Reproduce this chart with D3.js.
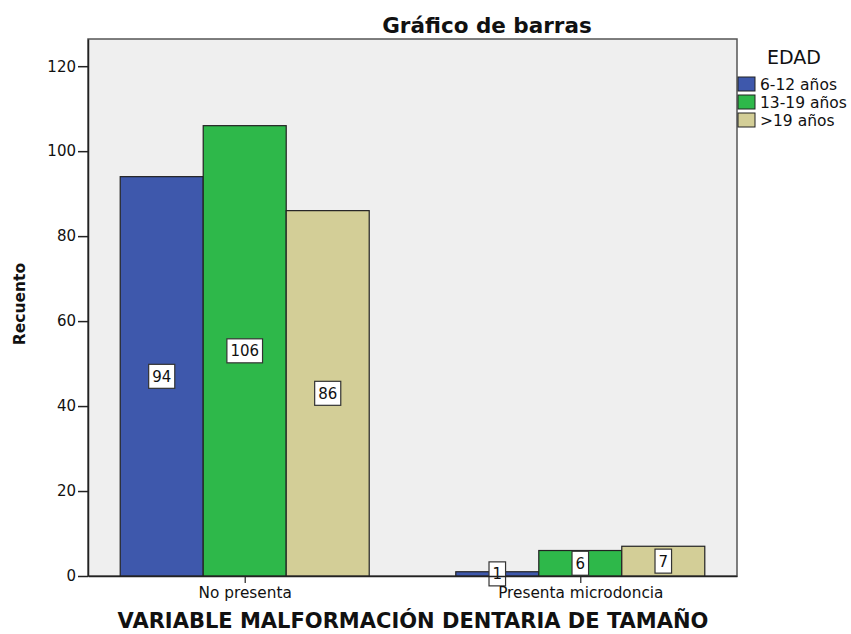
<!DOCTYPE html>
<html>
<head>
<meta charset="utf-8">
<script src="https://cdn.jsdelivr.net/npm/d3@7"></script>
<style>
  body { margin: 0; background: #fff; }
  text { font-family: "DejaVu Sans", Verdana, sans-serif; fill: #111; }
</style>
</head>
<body>
<div id="chart"></div>
<script>
const categories = ["No presenta", "Presenta microdoncia"];
const groups = ["6-12 años", "13-19 años", ">19 años"];
const values = [
  [94, 106, 86],
  [1, 6, 7]
];
const yTicks = [0, 20, 40, 60, 80, 100, 120];
const colors = ["#3e58ac", "#2eb84a", "#d3ce97"];

const width = 851, height = 634;
const margin = {top: 39, right: 114, bottom: 58, left: 88};

const svg = d3.select("#chart").append("svg")
  .attr("width", width)
  .attr("height", height);

const y = d3.scaleLinear()
  .domain([0, 126.4])
  .range([height - margin.bottom, margin.top]);

const x = d3.scalePoint()
  .domain(categories)
  .range([margin.left, width - margin.right])
  .padding(0.467);

const xInner = d3.scaleBand()
  .domain(groups)
  .range([-124.5, 124.5]);

// fondo + marco
svg.append("rect")
  .attr("x", margin.left)
  .attr("y", margin.top)
  .attr("width", width - margin.right - margin.left)
  .attr("height", height - margin.bottom - margin.top)
  .attr("fill", "#efefef")
  .attr("stroke", "#555")
  .attr("stroke-width", 1.5);

// barras
const rows = categories.flatMap((c, i) => groups.map((g, j) => ({cat: c, grp: g, val: values[i][j], j})));

svg.append("g")
  .selectAll("rect")
  .data(rows)
  .join("rect")
  .attr("x", d => x(d.cat) + xInner(d.grp))
  .attr("y", d => y(d.val))
  .attr("width", xInner.bandwidth())
  .attr("height", d => y(0) - y(d.val))
  .attr("fill", d => colors[d.j])
  .attr("stroke", "#222")
  .attr("stroke-width", 1.2);

// etiquetas de valor
const labels = svg.append("g")
  .selectAll("g")
  .data(rows)
  .join("g")
  .attr("transform", d => "translate(" + (x(d.cat) + xInner(d.grp) + xInner.bandwidth() / 2) + "," + y(d.val / 2) + ")");

labels.append("text")
  .attr("text-anchor", "middle")
  .attr("dy", "0.36em")
  .style("font-size", "15px")
  .text(d => d.val)
  .each(function () {
    const b = this.getBBox();
    d3.select(this.parentNode).insert("rect", "text")
      .attr("x", b.x - 3.5)
      .attr("y", -12)
      .attr("width", b.width + 7)
      .attr("height", 24)
      .attr("fill", "#fff")
      .attr("stroke", "#333")
      .attr("stroke-width", 1.2);
  });

// ejes
const yAxis = svg.append("g")
  .attr("transform", "translate(" + margin.left + ",0)")
  .call(d3.axisLeft(y).tickValues(yTicks).tickSize(10).tickSizeOuter(0).tickPadding(2));
yAxis.select(".domain").attr("stroke", "#222").attr("stroke-width", 1.5);
yAxis.selectAll(".tick line").attr("stroke", "#222").attr("stroke-width", 1.5);
yAxis.selectAll(".tick text").style("font-size", "15px").attr("fill", "#222");

const xAxis = svg.append("g")
  .attr("transform", "translate(0," + y(0) + ")")
  .call(d3.axisBottom(x).tickSize(7).tickSizeOuter(0).tickPadding(4));
xAxis.select(".domain").attr("stroke", "#222").attr("stroke-width", 1.5);
xAxis.selectAll(".tick line").attr("stroke", "#222").attr("stroke-width", 1.2);
xAxis.selectAll(".tick text").style("font-size", "15.3px").attr("fill", "#222");

// titulos
svg.append("text")
  .attr("x", 487)
  .attr("y", 33)
  .attr("text-anchor", "middle")
  .style("font-size", "21.5px")
  .style("font-weight", "bold")
  .text("Gráfico de barras");

svg.append("text")
  .attr("transform", "translate(25," + 304 + ") rotate(-90)")
  .attr("text-anchor", "middle")
  .style("font-size", "15.5px")
  .style("font-weight", "bold")
  .text("Recuento");

svg.append("text")
  .attr("x", 413)
  .attr("y", 628)
  .attr("text-anchor", "middle")
  .style("font-size", "21px")
  .style("font-weight", "bold")
  .text("VARIABLE MALFORMACIÓN DENTARIA DE TAMAÑO");

// leyenda
const legend = svg.append("g").attr("transform", "translate(738,0)");
legend.append("text")
  .attr("x", 56)
  .attr("y", 64)
  .attr("text-anchor", "middle")
  .style("font-size", "19px")
  .text("EDAD");

const items = legend.selectAll("g")
  .data(groups)
  .join("g")
  .attr("transform", (d, i) => "translate(0," + (77 + i * 18) + ")");
items.append("rect")
  .attr("width", 17)
  .attr("height", 14)
  .attr("fill", (d, i) => colors[i])
  .attr("stroke", "#222")
  .attr("stroke-width", 1);
items.append("text")
  .attr("x", 22)
  .attr("y", 12.5)
  .style("font-size", "15.5px")
  .text(d => d);
</script>
</body>
</html>
